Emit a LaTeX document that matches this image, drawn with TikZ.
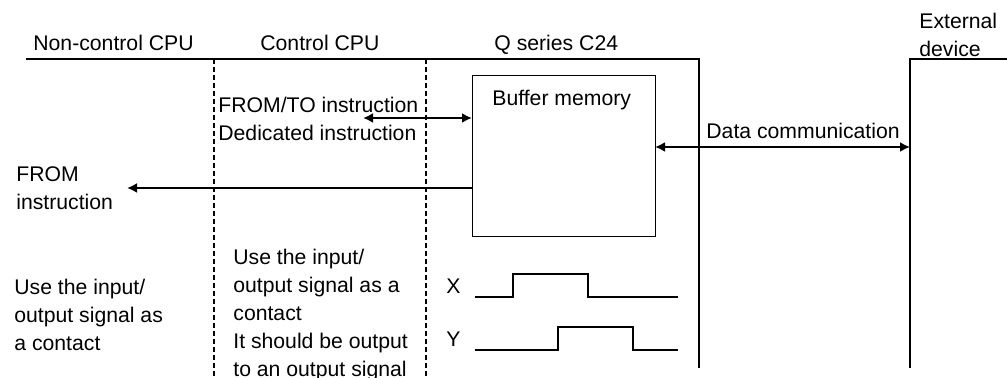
\documentclass[tikz,border=0pt]{standalone}
\usepackage{fontspec}
\setmainfont{Liberation Sans}
\usetikzlibrary{arrows.meta}
\tikzset{
>={Latex[length=5pt,width=5pt]}, % filled arrow heads
lbl/.style={font=\fontsize{10.6}{14}\selectfont, inner sep=0pt, align=left, anchor=north west}, % every text
frame/.style={line width=0.9pt}, % outline of the units
divider/.style={line width=0.9pt, dash pattern=on 2.5pt off 1.5pt}, % CPU borders
flow/.style={line width=1pt}, % data arrows
pulse/.style={line width=0.8pt}, % X and Y signals
}
\begin{document}
\begin{tikzpicture}[x=0.5pt, y=-0.5pt]
        \useasboundingbox (0,0) rectangle (1007,378);

        % headings
        \node[lbl] (ncpu) at (33,35) {Non-control CPU};
        \node[lbl] (ccpu) at (260,35) {Control CPU};
        \node[lbl] (qc24) at (494,35) {Q series C24};
        \node[lbl] (ext) at (919,13) {External\\device};

        % unit outlines
        \coordinate (hl) at (26,59);
        \coordinate (qr) at (699,59);
        \coordinate (qb) at (699,368);
        \coordinate (el) at (910,368);
        \coordinate (et) at (910,59);
        \coordinate (er) at (1007,59);
        \draw[frame] (hl) -- (qr) -- (qb);
        \draw[frame] (el) -- (et) -- (er);
        \foreach \x in {214,426}
            \draw[divider] (\x,59) -- (\x,378);

        % buffer memory
        \node[draw, line width=0.7pt, minimum width=91.5pt, minimum height=80.5pt, anchor=north west] (buf) at (472,75) {};
        \node[lbl] (bufl) at (492,90) {Buffer memory};

        % instructions and data
        \node[lbl] (ftins) at (218,97) {FROM/TO instruction\\Dedicated instruction};
        \coordinate (ft) at (363,118);
        \draw[flow, <->] (ft) -- (ft -| buf.west);
        \node[lbl] (fins) at (16,166) {FROM\\instruction};
        \coordinate (fr) at (127,188);
        \draw[flow, ->] (fr -| buf.west) -- (fr);
        \node[lbl] (dcom) at (706,123) {Data communication};
        \coordinate (dc) at (655,147);
        \draw[flow, <->] (dc) -- (dc -| et);

        % signals
        \node[lbl] (ncio) at (14,279) {Use the input/\\output signal as\\a contact};
        \node[lbl] (ccio) at (233,249) {Use the input/\\output signal as a\\contact\\It should be output\\to an output signal};
        \node[lbl] (xs) at (446,279) {X};
        \node[lbl] (ys) at (446,332) {Y};
        \draw[pulse] (475,297) -- (513,297) -- (513,274) -- (588,274) -- (588,297) -- (678,297);
        \draw[pulse] (475,350) -- (558,350) -- (558,327) -- (633,327) -- (633,350) -- (678,350);
\end{tikzpicture}
\end{document}
